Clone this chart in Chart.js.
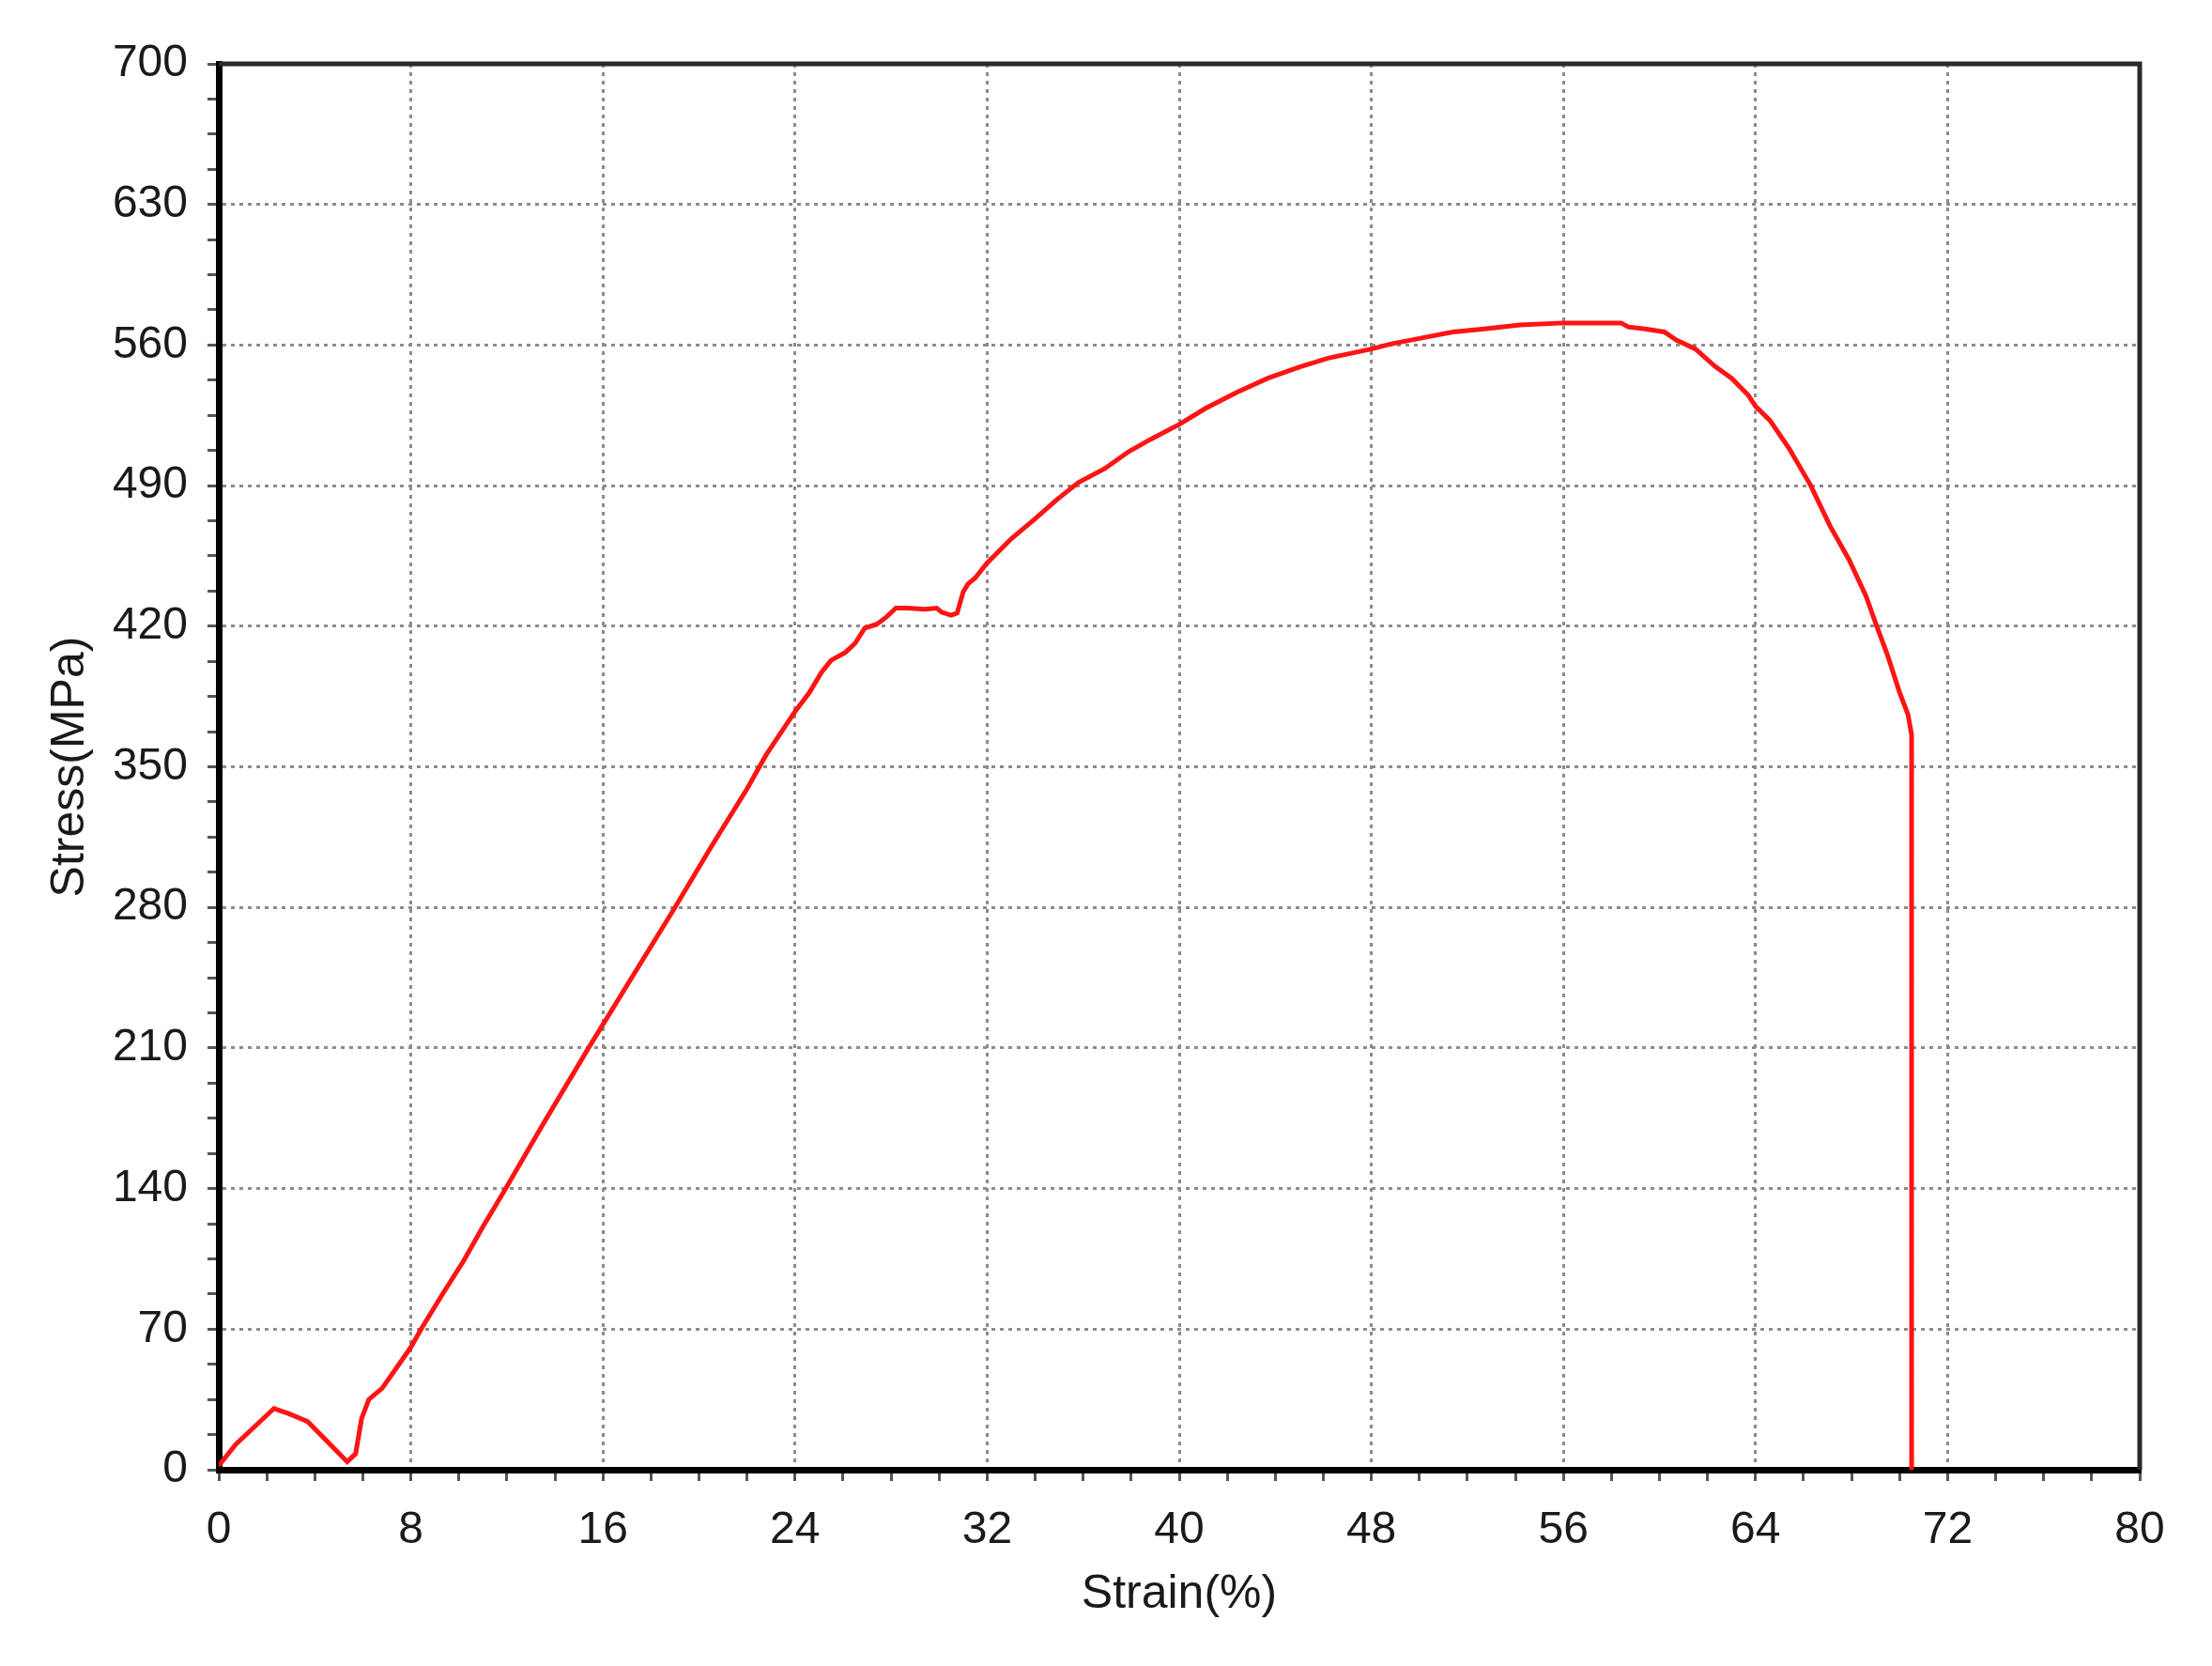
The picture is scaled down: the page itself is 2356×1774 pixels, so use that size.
<!DOCTYPE html>
<html>
<head>
<meta charset="utf-8">
<title>Stress-Strain</title>
<script src="https://cdn.jsdelivr.net/npm/chart.js@4.4.1/dist/chart.umd.min.js"></script>
<style>
  html, body { margin: 0; padding: 0; background: #fff; }
  #wrap { width: 2356px; height: 1774px; position: relative; }
</style>
</head>
<body>
<div id="wrap"><canvas id="myChart"></canvas></div>
<script>
// strain (%)
var strain = [
    0, 0.7, 2.3, 2.9, 3.7, 5.35, 5.7, 5.95, 6.25, 6.8, 7.3,
    8.0, 8.45, 9.35, 10.2, 11.0, 11.9, 13.5, 15.4, 17.2, 19.0, 20.5, 22.0,
    22.8, 24.0, 24.6, 25.1, 25.5, 26.1, 26.5, 26.9, 27.4, 27.8, 28.2,
    28.7, 29.4, 29.9, 30.1, 30.5, 30.75, 31.0, 31.2, 31.5,
    32.0, 33.0, 34.0, 34.9, 35.8, 36.9, 37.9, 38.8, 40.0,
    41.1, 42.4, 43.7, 45.0, 46.2, 48.0, 48.8, 50.1, 51.4, 52.7, 54.2, 56.0, 58.4,
    58.7, 59.4, 60.2, 60.7, 61.5, 62.3, 63.0, 63.7, 64.0, 64.6, 65.4,
    66.3, 67.1, 67.9, 68.6, 69.05, 69.5, 70.0, 70.35, 70.5, 70.5
];
// stress (MPa)
var stress = [
    2, 12.5, 30.5, 28, 24, 4, 8, 25.5, 35, 40.5, 49,
    61, 70.5, 88, 104, 121, 139, 172, 210, 245, 280, 310, 339,
    356, 377.5, 387, 397, 403, 407, 411.5, 419, 421, 424.5, 429,
    429, 428.5, 429, 427, 425.5, 426.5, 437, 441, 444,
    451.5, 463.5, 473.5, 483, 491.5, 498.5, 507, 513, 520.5,
    528.5, 536.5, 543.5, 549, 553.5, 558, 560.5, 563.5, 566.5, 568, 570, 571, 571,
    569, 568, 566.5, 562.5, 558, 549.5, 543.5, 535, 529.5, 522.5, 508.5,
    490, 470, 453, 435, 420, 405.5, 387, 376, 366, 0
];

var xMajor = 8;     // labelled x ticks
var yMajor = 70;    // labelled y ticks

var puntos = strain.map(function (s, i) { return { x: s, y: stress[i] }; });

var fuente = "'Liberation Sans', Arial, sans-serif";

// marco superior y derecho
var marco = {
    id: 'marco',
    beforeDatasetsDraw: function (chart) {
        var a = chart.chartArea, c = chart.ctx;
        c.save();
        c.strokeStyle = '#2a2a2a';
        c.lineWidth = 5;
        c.beginPath();
        c.moveTo(a.left, a.top);
        c.lineTo(a.right, a.top);
        c.lineTo(a.right, a.bottom);
        c.stroke();
        c.restore();
    }
};

var ctx = document.getElementById('myChart').getContext('2d');

var graphData = {
    type: 'line',
    data: {
        datasets: [{
            label: 'Stress',
            data: puntos,
            borderColor: '#ff1414',
            borderWidth: 5,
            pointRadius: 0,
            tension: 0,
            fill: false
        }]
    },
    options: {
        responsive: true,
        maintainAspectRatio: false,
        animation: false,
        layout: { padding: { left: 0, top: 68, right: 77, bottom: 0 } },
        plugins: { legend: { display: false }, tooltip: { enabled: false } },
        scales: {
            x: {
                type: 'linear',
                min: 0,
                max: 80,
                afterFit: function (s) { s.height = 209; },
                ticks: {
                    stepSize: 2,
                    autoSkip: false,
                    maxRotation: 0,
                    padding: 24,
                    color: '#1a1a1a',
                    font: { family: fuente, size: 48 },
                    callback: function (v) { return v % xMajor === 0 ? v : ''; }
                },
                grid: {
                    color: function (c) { return c.tick && c.tick.value % xMajor === 0 ? '#8c8c8c' : 'rgba(0,0,0,0)'; },
                    lineWidth: 3,
                    tickColor: '#555',
                    tickLength: 12,
                    tickWidth: 3
                },
                border: { display: true, color: '#000', width: 7, dash: [4, 5] },
                title: {
                    display: true,
                    text: 'Strain(%)',
                    color: '#1a1a1a',
                    font: { family: fuente, size: 50 },
                    padding: { top: 0, bottom: 46 }
                }
            },
            y: {
                min: 0,
                max: 700,
                afterFit: function (s) { s.width = 233; },
                ticks: {
                    stepSize: 17.5,
                    autoSkip: false,
                    padding: 21,
                    color: '#1a1a1a',
                    font: { family: fuente, size: 48 },
                    callback: function (v) { return v % yMajor === 0 ? v : ''; }
                },
                grid: {
                    color: function (c) { return c.tick && c.tick.value % yMajor === 0 ? '#8c8c8c' : 'rgba(0,0,0,0)'; },
                    lineWidth: 3,
                    tickColor: '#555',
                    tickLength: 12,
                    tickWidth: 3
                },
                border: { display: true, color: '#000', width: 7, dash: [4, 5] },
                title: {
                    display: true,
                    text: 'Stress(MPa)',
                    color: '#1a1a1a',
                    font: { family: fuente, size: 50 },
                    padding: { top: 45, bottom: 0 }
                }
            }
        }
    },
    plugins: [marco]
};

var myChart = new Chart(ctx, graphData);
</script>
</body>
</html>
